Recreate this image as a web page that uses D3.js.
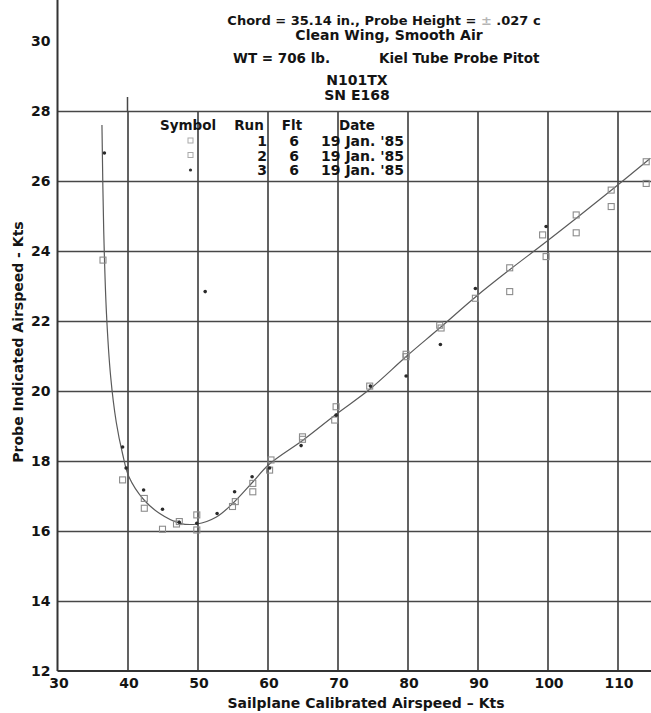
<!DOCTYPE html>
<html>
<head>
<meta charset="utf-8">
<script src="https://cdn.jsdelivr.net/npm/d3@7"></script>
<style>
body{margin:0;background:#fff;}
svg text{font-family:"DejaVu Sans","Liberation Sans",Arial,sans-serif;font-weight:bold;fill:#141414;}
</style>
</head>
<body>
<svg id="mainSvg" width="651" height="713"></svg>
<script>
// values
var xTicks = [30,40,50,60,70,80,90,100,110];
var yTicks = [12,14,16,18,20,22,24,26,28,30];
var xGrid = [40,50,60,70,80,90,100,110];
var yGrid = [14,16,18,20,22,24,26,28];

var run1 = [[36.5,23.74],[39.3,17.46],[42.4,16.93],[45.0,16.05],[47.4,16.27],[49.9,16.46],
            [55.4,16.84],[57.9,17.36],[60.5,18.03],[65.0,18.69],[69.8,19.55],[74.6,20.14],
            [79.8,21.05],[84.6,21.88],[89.7,22.65],[94.6,23.52],[99.3,24.46],[104.1,25.03],
            [109.1,25.74],[114.1,26.55]];
var run2 = [[42.4,16.65],[47.0,16.2],[49.9,16.03],[55.0,16.7],[57.9,17.12],[60.3,17.74],
            [65.0,18.62],[69.6,19.17],[79.8,20.98],[84.8,21.8],[94.6,22.84],[99.8,23.84],
            [104.1,24.52],[109.1,25.27],[114.1,25.93]];
var run3 = [[36.7,26.8],[39.3,18.4],[39.8,17.8],[42.3,17.17],[45.0,16.62],[47.4,16.25],
            [49.9,16.22],[51.1,22.84],[52.8,16.5],[55.3,17.12],[57.8,17.55],[60.3,17.8],
            [64.8,18.44],[69.8,19.31],[74.7,20.14],[79.8,20.43],[84.7,21.33],[89.7,22.93],
            [99.8,24.7]];
var fitCurve = [[36.35,27.6],[36.6,24.6],[37.0,22.2],[37.6,20.4],[38.4,19.1],[39.3,18.2],
                [40.2,17.55],[42.3,16.9],[44.6,16.5],[47.5,16.22],[49.9,16.2],[52.7,16.4],
                [55.1,16.8],[57.9,17.4],[60.2,17.9],[65.1,18.6],[69.9,19.35],[74.6,20.05],
                [79.9,21.0],[84.6,21.8],[89.8,22.7],[94.5,23.45],[99.4,24.2],[104.2,24.95],
                [109.2,25.75],[114.7,26.65]];

var legendCols = ["Symbol","Run","Flt","Date"];
var legendRuns = ["1","2","3"];
var legendFlts = ["6","6","6"];
var legendDates = ["19 Jan. '85","19 Jan. '85","19 Jan. '85"];
var legendSymbols = ["square","square","dot"];

var headerLine2 = "Clean Wing, Smooth Air";
var headerMiddle = ["WT = 706 lb.","Kiel Tube Probe Pitot"];
var headerReg = ["N101TX","SN E168"];

var xTitle = "Sailplane Calibrated Airspeed \u2013 Kts";
var yTitle = "Probe Indicated Airspeed - Kts";

var svg = d3.select("#mainSvg");
var x = d3.scaleLinear().domain([30,110]).range([57.5,617.5]);
var y = d3.scaleLinear().domain([12,28]).range([671,111]);
var rightEdge = 651;

function drawGrid(){
    var gridG = svg.append("g").attr("class","grid");

    gridG.append("g")
        .attr("transform","translate(" + x(30) + ",0)")
        .call(d3.axisLeft(y).tickValues(yGrid).tickSize(-(rightEdge - x(30))).tickFormat(""))
        .call(function(g){ g.select(".domain").remove(); })
        .selectAll("line")
        .attr("stroke","#474747")
        .attr("stroke-width",1.7);

    gridG.append("g")
        .attr("transform","translate(0," + y(12) + ")")
        .call(d3.axisBottom(x).tickValues(xGrid).tickSize(-(y(12) - y(28))).tickFormat(""))
        .call(function(g){ g.select(".domain").remove(); })
        .selectAll("line")
        .attr("stroke","#474747")
        .attr("stroke-width",1.7);

    // the 40 kt line pokes above the top grid line
    gridG.append("line")
        .attr("x1",x(40)).attr("x2",x(40))
        .attr("y1",y(28)).attr("y2",y(28.4))
        .attr("stroke","#474747")
        .attr("stroke-width",1.5);

    // axes frame
    gridG.append("line")
        .attr("x1",x(30)).attr("x2",x(30))
        .attr("y1",y(12)).attr("y2",0)
        .attr("stroke","#333")
        .attr("stroke-width",2);
    gridG.append("line")
        .attr("x1",x(30)).attr("x2",rightEdge)
        .attr("y1",y(12)).attr("y2",y(12))
        .attr("stroke","#333")
        .attr("stroke-width",2.2);
}

function drawAxes(){
    var xAxisG = svg.append("g")
        .attr("transform","translate(0," + y(12) + ")")
        .call(d3.axisBottom(x).tickValues(xTicks).tickSize(0).tickPadding(7));
    xAxisG.select(".domain").remove();
    xAxisG.selectAll("text")
        .attr("font-size","14px")
        .attr("dx","1")
        .style("font-family","DejaVu Sans")
        .style("font-weight","bold")
        .attr("fill","#141414");

    var yAxisG = svg.append("g")
        .attr("transform","translate(" + x(30) + ",0)")
        .call(d3.axisLeft(y).tickValues(yTicks).tickSize(0).tickPadding(7));
    yAxisG.select(".domain").remove();
    yAxisG.selectAll("text")
        .attr("font-size","14px")
        .style("font-family","DejaVu Sans")
        .style("font-weight","bold")
        .attr("fill","#141414");

    svg.append("text")
        .attr("x",366)
        .attr("y",708)
        .attr("text-anchor","middle")
        .attr("font-size","14px")
        .text(xTitle);

    svg.append("text")
        .attr("transform","translate(23,342) rotate(-90)")
        .attr("text-anchor","middle")
        .attr("font-size","14px")
        .text(yTitle);
}

function drawHeader(){
    var headG = svg.append("g").attr("class","header");

    var line1 = headG.append("text")
        .attr("x",384)
        .attr("y",25)
        .attr("text-anchor","middle")
        .attr("font-size","13px");
    line1.append("tspan").text("Chord = 35.14 in., Probe Height = ");
    line1.append("tspan").attr("fill","#b5b5b5").text("\u00b1");
    line1.append("tspan").text(" .027 c");

    headG.append("text")
        .attr("x",389)
        .attr("y",40)
        .attr("text-anchor","middle")
        .attr("font-size","14px")
        .text(headerLine2);

    headG.selectAll(".headM")
        .data(headerMiddle)
        .enter()
        .append("text")
        .attr("x",function(d,i){ return i == 0 ? 233 : 379; })
        .attr("y",63)
        .attr("font-size","13.5px")
        .text(function(d){ return d; });

    headG.selectAll(".headR")
        .data(headerReg)
        .enter()
        .append("text")
        .attr("x",357)
        .attr("y",function(d,i){ return 85 + i * 15; })
        .attr("text-anchor","middle")
        .attr("font-size","14px")
        .text(function(d){ return d; });
}

function drawLegend(){
    var legG = svg.append("g").attr("class","legend");
    var colX = [188,249,292,357];

    legG.selectAll(".legHead")
        .data(legendCols)
        .enter()
        .append("text")
        .attr("x",function(d,i){ return colX[i]; })
        .attr("y",130)
        .attr("text-anchor","middle")
        .attr("font-size","13.5px")
        .text(function(d){ return d; });

    var rowY = function(i){ return 146 + i * 14.5; };

    legendSymbols.forEach(function(s,i){
        if(s == "square"){
            legG.append("rect")
                .attr("x",188).attr("y",rowY(i) - 8)
                .attr("width",5).attr("height",5)
                .attr("fill","none")
                .attr("stroke","#aaa")
                .attr("stroke-width",1);
        } else {
            legG.append("circle")
                .attr("cx",190.5).attr("cy",rowY(i) - 5)
                .attr("r",1.6)
                .attr("fill","#333");
        }
    });

    legG.selectAll(".legRun")
        .data(legendRuns)
        .enter()
        .append("text")
        .attr("x",267)
        .attr("y",function(d,i){ return rowY(i); })
        .attr("text-anchor","end")
        .attr("font-size","14px")
        .text(function(d){ return d; });

    legG.selectAll(".legFlt")
        .data(legendFlts)
        .enter()
        .append("text")
        .attr("x",299)
        .attr("y",function(d,i){ return rowY(i); })
        .attr("text-anchor","end")
        .attr("font-size","14px")
        .text(function(d){ return d; });

    legG.selectAll(".legDate")
        .data(legendDates)
        .enter()
        .append("text")
        .attr("x",404)
        .attr("y",function(d,i){ return rowY(i); })
        .attr("text-anchor","end")
        .attr("font-size","14px")
        .text(function(d){ return d; });
}

function drawData(){
    var line = d3.line()
        .x(function(d){ return x(d[0]); })
        .y(function(d){ return y(d[1]); })
        .curve(d3.curveCatmullRom);

    svg.append("path")
        .datum(fitCurve)
        .attr("d",line)
        .attr("fill","none")
        .attr("stroke","#5a5a5a")
        .attr("stroke-width",1.2);

    var squares = run1.concat(run2);
    svg.selectAll(".sq")
        .data(squares)
        .enter()
        .append("rect")
        .attr("class","sq")
        .attr("x",function(d){ return x(d[0]) - 3; })
        .attr("y",function(d){ return y(d[1]) - 3; })
        .attr("width",6)
        .attr("height",6)
        .attr("fill","none")
        .attr("stroke","#8c8c8c")
        .attr("stroke-width",1.1);

    svg.selectAll(".dot")
        .data(run3)
        .enter()
        .append("circle")
        .attr("class","dot")
        .attr("cx",function(d){ return x(d[0]); })
        .attr("cy",function(d){ return y(d[1]); })
        .attr("r",1.8)
        .attr("fill","#2a2a2a");
}

drawGrid();
drawData();
drawAxes();
drawHeader();
drawLegend();
</script>
</body>
</html>
